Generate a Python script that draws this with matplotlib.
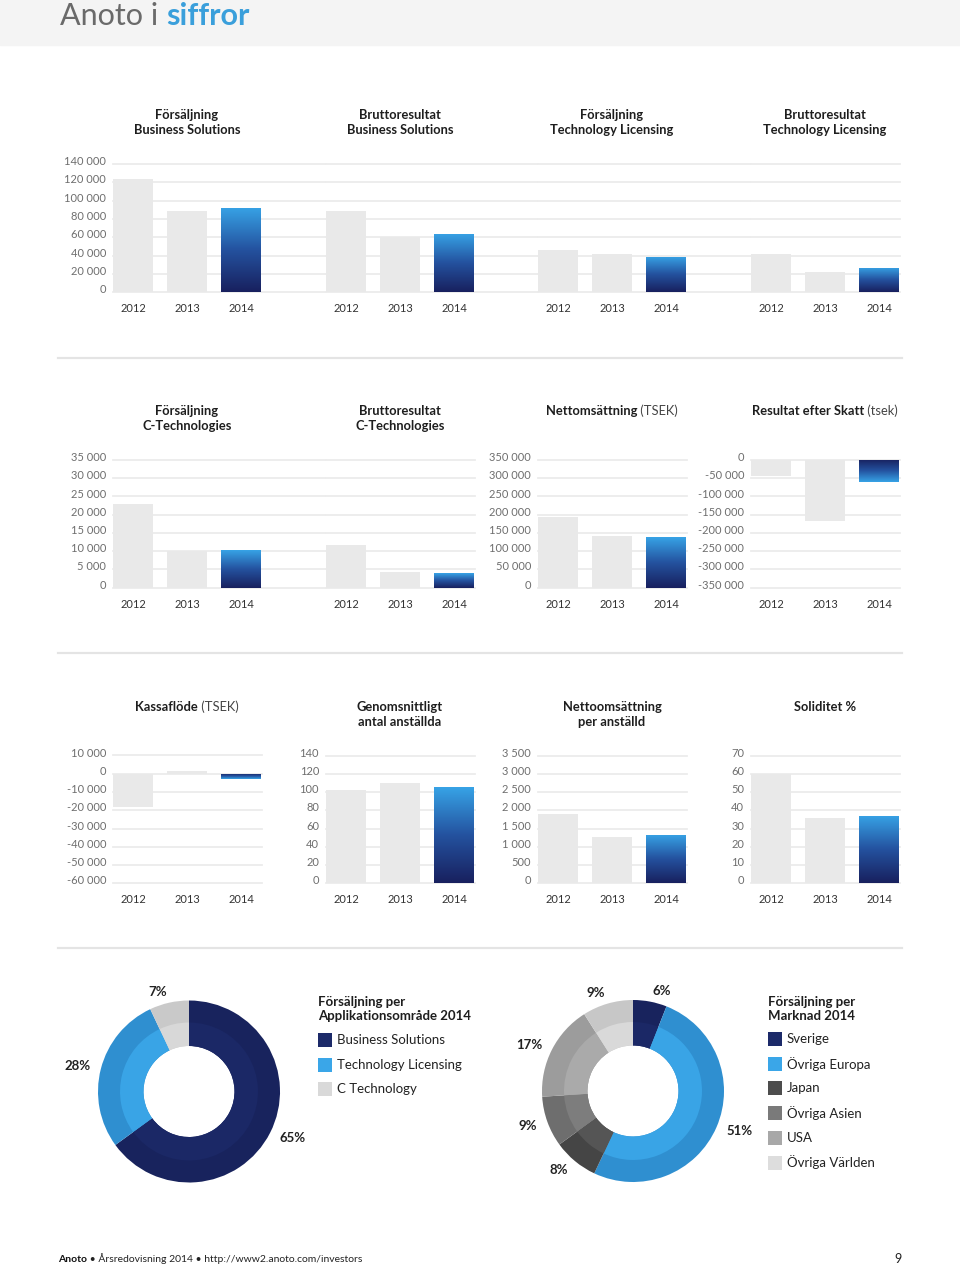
import numpy as np
import matplotlib.pyplot as plt
from matplotlib.colors import LinearSegmentedColormap
from matplotlib.patches import Rectangle
from matplotlib.lines import Line2D
import matplotlib.transforms as mtransforms

plt.rcParams['font.family'] = ['Lato', 'DejaVu Sans']

W, H = 960, 1267

# ---- data ----
years = ['2012', '2013', '2014']
sales_bs = [124000, 88500, 92000]
gross_bs = [88500, 60000, 64000]
sales_tl = [46000, 42000, 38500]
gross_tl = [42000, 22000, 26500]
sales_ct = [22900, 10000, 10200]
gross_ct = [11800, 4200, 3900]
net_sales = [194500, 142500, 139500]
result_after_tax = [-43000, -166000, -61000]
cash_flow = [-18300, 1500, -2900]
avg_employees = [102, 110, 105]
sales_per_employee = [1890, 1270, 1320]
solidity = [59.8, 35.5, 36.7]

ticks_row1 = np.arange(0, 140001, 20000)
ticks_ct = np.arange(0, 35001, 5000)
ticks_net = np.arange(0, 350001, 50000)
ticks_result = np.arange(-350000, 1, 50000)
ticks_cash = np.arange(-60000, 10001, 10000)
ticks_emp = np.arange(0, 141, 20)
ticks_per_emp = np.arange(0, 3501, 500)
ticks_sol = np.arange(0, 71, 10)

app_labels = ['Business Solutions', 'Technology Licensing', 'C Technology']
app_shares = [65, 28, 7]
market_labels = ['Sverige', 'Övriga Europa', 'Japan', 'Övriga Asien', 'USA', 'Övriga Världen']
market_shares = [6, 51, 8, 9, 17, 9]

# ---- colours ----
app_outer = ['#18235d', '#2f8fd0', '#c9c9c9']
app_inner = ['#1b2866', '#39a4e6', '#d8d8d8']
app_legend = ['#1c2a69', '#3aa6e8', '#d9d9d9']
mkt_outer = ['#18235d', '#2f8fd0', '#454545', '#6e6e6e', '#9c9c9c', '#c7c7c7']
mkt_inner = ['#1b2866', '#39a4e6', '#555555', '#7d7d7d', '#aaaaaa', '#d9d9d9']
mkt_legend = ['#1c2a69', '#3aa6e8', '#4d4d4d', '#7a7a7a', '#a8a8a8', '#dddddd']
blue_cmap = LinearSegmentedColormap.from_list('anoto', ['#18205e', '#24529f', '#37a3e6'])
grey_bar = '#e9e9e9'

fig = plt.figure(figsize=(W / 100, H / 100), dpi=100)


def box(x0, y0, x1, y1):
    return [x0 / W, 1 - y1 / H, (x1 - x0) / W, (y1 - y0) / H]


def fmt(v):
    return f"{int(v):,}".replace(',', ' ')


UNIT = 54.0
LO = -0.37


def bar_panel(x0, x1, y0, y1, values, ticks, show_y=True):
    ax = fig.add_axes(box(x0, y0, x1, y1))
    xs = np.arange(len(values))
    bars = ax.bar(xs, values, width=0.74, color=[grey_bar, grey_bar, 'none'],
                  linewidth=0, zorder=2)
    b = bars[-1]
    grad = np.linspace(0, 1, 256).reshape(-1, 1)
    img = ax.imshow(grad, extent=[b.get_x(), b.get_x() + b.get_width(), 0, values[-1]],
                    origin='lower', aspect='auto', cmap=blue_cmap, zorder=2.5)
    img.set_clip_path(b)
    ax.set_xlim(LO, LO + (x1 - x0) / UNIT)
    ax.set_ylim(ticks.min(), ticks.max())
    ax.set_yticks(ticks)
    ax.set_yticklabels([fmt(t) for t in ticks] if show_y else [])
    ax.set_xticks(xs, years)
    ax.yaxis.grid(True, color='#ececec', lw=1.3)
    for gl in ax.get_ygridlines():
        gl.set_clip_on(False)
    ax.set_axisbelow(True)
    for s in ax.spines.values():
        s.set_visible(False)
    ax.tick_params(axis='y', length=0, pad=5, labelsize=8, labelcolor='#6e6e6e')
    ax.tick_params(axis='x', length=0, pad=8, labelsize=8, labelcolor='#333333')
    off = mtransforms.ScaledTranslation(0, 2.5 / 72, fig.dpi_scale_trans)
    for lab in ax.get_yticklabels():
        lab.set_transform(lab.get_transform() + off)
    return ax


renderer = fig.canvas.get_renderer()


def two_part(x, y, bold, light, size=9.3, align='center', bcol='#1e1e1e', lcol='#444444'):
    t1 = fig.text(0, 1 - y / H, bold, weight='bold', ha='left', va='center',
                  size=size, color=bcol)
    t2 = fig.text(0, 1 - y / H, light, ha='left', va='center', size=size, color=lcol)
    w1 = t1.get_window_extent(renderer).width
    w2 = t2.get_window_extent(renderer).width if light else 0
    left = x - (w1 + w2) / 2 if align == 'center' else x
    t1.set_x(left / W)
    t2.set_x((left + w1) / W)


def title(x, y, s):
    fig.text(x / W, 1 - y / H, s, weight='bold', ha='center', va='center', size=9.3,
             color='#1e1e1e', linespacing=1.25)


# ---- header ----
fig.add_artist(Rectangle((0, 1 - 45 / H), 1, 45 / H, transform=fig.transFigure,
                         color='#f4f4f4', zorder=0))
t1 = fig.text(60 / W, 1 - 16 / H, 'Anoto i ', ha='left', va='center', size=22,
              color='#6a6a6a')
w1 = t1.get_window_extent(renderer).width
fig.text((60 + w1) / W, 1 - 16 / H, 'siffror', ha='left', va='center', size=22,
         color='#3a9fdb', weight='bold')

# separators
for ys in (358, 653, 948):
    fig.add_artist(Line2D([58 / W, 902 / W], [1 - ys / H, 1 - ys / H],
                          transform=fig.transFigure, color='#e4e4e4', lw=1.6))

# ---- row 1 ----
r1 = (164, 292.3)
bar_panel(113, 326, *r1, sales_bs, ticks_row1)
bar_panel(326, 538, *r1, gross_bs, ticks_row1, show_y=False)
bar_panel(538, 751, *r1, sales_tl, ticks_row1, show_y=False)
bar_panel(751, 900, *r1, gross_tl, ticks_row1, show_y=False)
title(187, 122.5, 'Försäljning\nBusiness Solutions')
title(400, 122.5, 'Bruttoresultat\nBusiness Solutions')
title(612, 122.5, 'Försäljning\nTechnology Licensing')
title(825, 122.5, 'Bruttoresultat\nTechnology Licensing')

# ---- row 2 ----
r2 = (460, 587.7)
bar_panel(113, 326, *r2, sales_ct, ticks_ct)
bar_panel(326, 475, *r2, gross_ct, ticks_ct, show_y=False)
bar_panel(538, 687, *r2, net_sales, ticks_net)
bar_panel(751, 900, *r2, result_after_tax, ticks_result)
title(187, 418.5, 'Försäljning\nC-Technologies')
title(400, 418.5, 'Bruttoresultat\nC-Technologies')
two_part(612, 411, 'Nettomsättning', ' (TSEK)')
two_part(825, 411, 'Resultat efter Skatt', ' (tsek)')

# ---- row 3 ----
r3 = (755.5, 883.3)
bar_panel(113, 262, *r3, cash_flow, ticks_cash)
bar_panel(326, 475, *r3, avg_employees, ticks_emp)
bar_panel(538, 687, *r3, sales_per_employee, ticks_per_emp)
bar_panel(751, 900, *r3, solidity, ticks_sol)
two_part(187, 707, 'Kassaflöde', ' (TSEK)')
title(400, 714.5, 'Genomsnittligt\nantal anställda')
title(612, 714.5, 'Nettoomsättning\nper anställd')
title(825, 707, 'Soliditet %')


# ---- donuts ----
def donut(xc, yc, shares, outer, inner):
    size = 300
    ax = fig.add_axes(box(xc - size / 2, yc - size / 2, xc + size / 2, yc + size / 2))
    # outer colour drawn as a full-width ring, inner band laid on top (no seam)
    ax.pie(shares, radius=1, colors=outer, startangle=90, counterclock=False,
           wedgeprops=dict(width=0.5, linewidth=0),
           labels=[f'{s}%' for s in shares], labeldistance=1.12,
           textprops=dict(weight='bold', size=9.5, color='#222222'))
    ax.pie(shares, radius=0.758, colors=inner, startangle=90, counterclock=False,
           wedgeprops=dict(width=0.258, linewidth=0))
    lim = size / 2 / 91
    ax.set_xlim(-lim, lim)
    ax.set_ylim(-lim, lim)
    ax.set_aspect('equal')
    ax.axis('off')


def legend_block(x, y_title, heading, labels, colors, y0, step):
    fig.text(x / W, 1 - y_title / H, heading, weight='bold', ha='left', va='center',
             size=9.5, color='#1e1e1e', linespacing=1.25)
    for i, (lab, col) in enumerate(zip(labels, colors)):
        yc = y0 + i * step
        fig.add_artist(Rectangle((x / W, 1 - (yc + 7) / H), 14 / W, 14 / H,
                                 transform=fig.transFigure, color=col, lw=0))
        fig.text((x + 19) / W, 1 - yc / H, lab, ha='left', va='center', size=9.5,
                 color='#222222')


donut(189, 1091.5, app_shares, app_outer, app_inner)
legend_block(318, 1009, 'Försäljning per\nApplikationsområde 2014', app_labels,
             app_legend, 1040, 24.7)
donut(633, 1091, market_shares, mkt_outer, mkt_inner)
legend_block(768, 1009, 'Försäljning per\nMarknad 2014', market_labels,
             mkt_legend, 1039, 24.7)

# ---- footer ----
two_part(58, 1259, 'Anoto', ' • Årsredovisning 2014 • http://www2.anoto.com/investors',
         size=7.5, align='left', bcol='#111111', lcol='#222222')
fig.text(902 / W, 1 - 1259 / H, '9', ha='right', va='center', size=9, color='#222222')

fig.savefig('out.png', dpi=100)
